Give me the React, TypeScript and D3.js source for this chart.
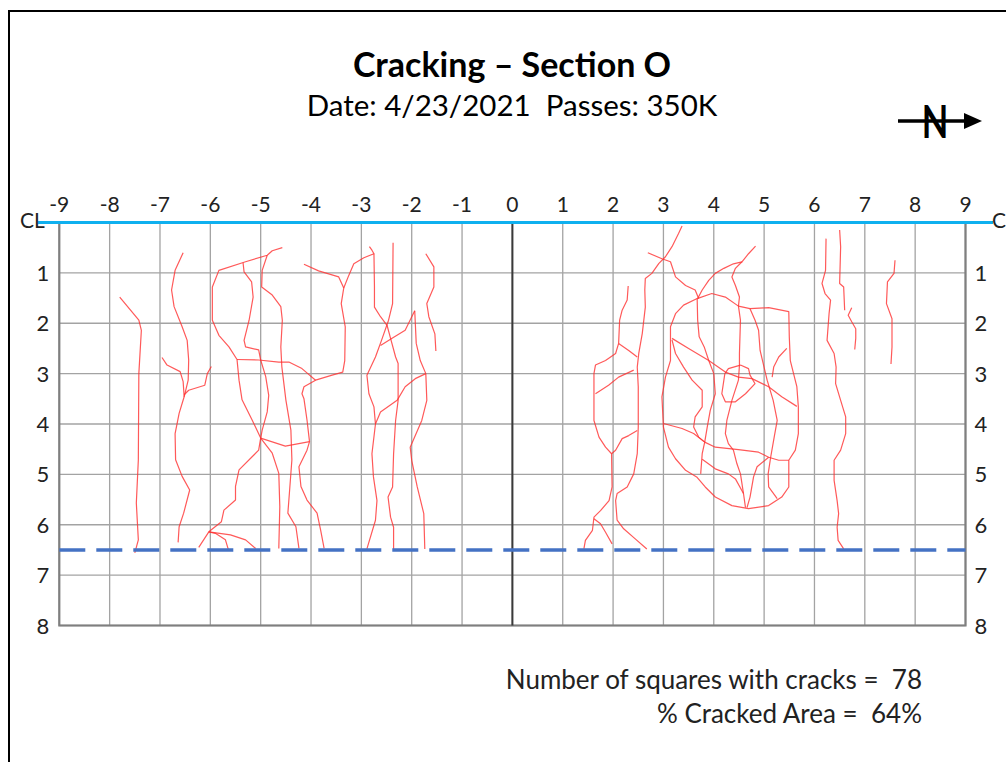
import { scaleLinear, line, range } from "d3";

type Pt = [number, number];

// grid coordinates: x = transverse offset (-9..9), y = distance from CL (0..8)
const xTicks = range(-9, 10);
const yTicks = range(1, 9);
const wheelPathY = 6.5;

const title = "Cracking \u2013 Section O";
const subtitle = "Date: 4/23/2021  Passes: 350K";
const statLines = ["Number of squares with cracks =  78", "% Cracked Area =  64%"];

// crack traces, west half
const westCracks: Pt[][] = [
  [[-7.8, 1.48], [-7.42, 1.94], [-7.37, 2.14], [-7.42, 3.0], [-7.43, 4.71], [-7.47, 5.57], [-7.43, 6.3], [-7.5, 6.56]],
  [[-6.54, 0.6], [-6.7, 0.95], [-6.77, 1.34], [-6.72, 1.67], [-6.56, 2.07], [-6.46, 2.34], [-6.43, 2.73], [-6.44, 3.13], [-6.52, 3.46], [-6.62, 3.79], [-6.7, 4.19], [-6.69, 4.71], [-6.56, 5.04], [-6.41, 5.31], [-6.53, 5.77], [-6.62, 6.04], [-6.64, 6.35]],
  [[-6.96, 2.68], [-6.86, 2.83], [-6.6, 2.96], [-6.54, 3.16], [-6.52, 3.46]],
  [[-6.52, 3.42], [-6.43, 3.33], [-6.11, 3.23], [-6.06, 3.0], [-5.98, 2.86]],
  [[-4.57, 0.5], [-4.77, 0.56], [-4.87, 0.65], [-5.3, 0.78], [-5.83, 0.95], [-5.96, 1.28], [-5.96, 1.94], [-5.83, 2.24], [-5.63, 2.47], [-5.47, 2.72], [-5.43, 3.13], [-5.37, 3.52], [-5.17, 3.92], [-5.0, 4.28]],
  [[-5.47, 2.72], [-5.04, 2.73], [-4.64, 2.77], [-4.44, 2.77], [-4.18, 2.9], [-3.91, 3.13]],
  [[-5.35, 0.8], [-5.33, 0.98], [-5.18, 1.18], [-5.15, 1.48], [-5.23, 1.94], [-5.33, 2.34], [-5.3, 2.47], [-5.04, 2.53], [-5.0, 2.73], [-4.9, 3.06], [-4.84, 3.43], [-4.87, 3.76], [-4.97, 4.12], [-5.0, 4.28], [-5.04, 4.52], [-5.14, 4.62], [-5.43, 4.91], [-5.5, 5.24], [-5.5, 5.51], [-5.73, 5.71], [-5.78, 5.94], [-6.03, 6.14], [-6.23, 6.45]],
  [[-6.03, 6.14], [-5.9, 6.17], [-5.7, 6.3], [-5.64, 6.5]],
  [[-6.03, 6.14], [-5.6, 6.2], [-5.3, 6.3], [-5.1, 6.47]],
  [[-4.87, 0.65], [-4.97, 0.95], [-4.98, 1.28], [-4.77, 1.44], [-4.6, 1.67], [-4.57, 1.94], [-4.6, 2.47], [-4.58, 2.86], [-4.5, 3.52], [-4.4, 4.12], [-4.38, 4.71], [-4.43, 5.38], [-4.46, 5.77], [-4.3, 6.04], [-4.24, 6.47]],
  [[-5.0, 4.28], [-4.77, 4.58], [-4.64, 4.98], [-4.62, 5.64], [-4.64, 6.47]],
  [[-5.0, 4.28], [-4.51, 4.44], [-4.03, 4.35]],
  [[-4.14, 0.83], [-3.85, 0.96], [-3.45, 1.08], [-3.35, 1.3], [-3.4, 1.61], [-3.32, 2.07], [-3.33, 2.74], [-3.37, 2.97], [-3.58, 3.03], [-3.91, 3.13], [-4.14, 3.26], [-4.18, 3.4], [-4.14, 3.5], [-4.08, 3.92], [-4.03, 4.35], [-4.08, 4.52], [-4.24, 4.85], [-4.2, 5.24], [-4.08, 5.51], [-3.88, 5.77], [-3.81, 6.1], [-3.74, 6.47]],
  [[-3.35, 1.3], [-3.25, 1.05], [-3.15, 0.82], [-2.95, 0.7], [-2.75, 0.62], [-2.79, 0.55], [-2.84, 0.48]],
  [[-2.75, 0.62], [-2.74, 1.28], [-2.74, 1.68], [-2.62, 1.87], [-2.49, 2.04], [-2.42, 2.3], [-2.32, 2.67], [-2.27, 2.8], [-2.27, 3.53], [-2.32, 3.93], [-2.36, 4.59], [-2.38, 5.25], [-2.47, 5.45], [-2.42, 5.85], [-2.36, 6.05], [-2.36, 6.51]],
  [[-2.37, 0.4], [-2.38, 1.61], [-2.46, 1.94], [-2.6, 2.34], [-2.72, 2.67], [-2.89, 3.03], [-2.85, 3.4], [-2.75, 3.66], [-2.72, 4.0], [-2.79, 4.59], [-2.76, 5.05], [-2.69, 5.52], [-2.72, 5.91], [-2.89, 6.48]],
  [[-2.62, 2.44], [-2.39, 2.3], [-2.13, 2.14], [-1.94, 1.75]],
  [[-1.94, 1.75], [-1.91, 2.4], [-1.83, 2.74], [-1.72, 3.0], [-1.7, 3.53], [-1.8, 3.93], [-2.03, 4.46], [-2.0, 4.72], [-1.89, 5.25], [-1.76, 5.78], [-1.74, 6.48]],
  [[-1.72, 3.0], [-1.93, 3.1], [-2.13, 3.26], [-2.29, 3.53], [-2.62, 3.76], [-2.72, 4.0]],
  [[-1.72, 0.62], [-1.56, 0.88], [-1.56, 1.28], [-1.7, 1.61], [-1.66, 1.87], [-1.54, 2.21], [-1.52, 2.55]],
];

// crack traces, east half
const eastCracks: Pt[][] = [
  [[2.3, 1.26], [2.28, 1.54], [2.18, 1.74], [2.13, 1.94], [2.11, 2.4], [2.05, 2.6], [1.85, 2.74], [1.65, 2.83], [1.62, 3.0], [1.62, 3.93], [1.72, 4.26], [1.85, 4.46], [1.97, 4.59], [1.98, 5.25], [1.92, 5.52], [1.75, 5.72], [1.62, 5.85], [1.59, 6.11], [1.45, 6.31], [1.42, 6.48]],
  [[1.62, 5.88], [1.75, 5.98], [1.85, 6.15], [1.98, 6.38]],
  [[2.11, 2.4], [2.31, 2.54], [2.48, 2.67]],
  [[3.37, 0.07], [3.3, 0.22], [3.17, 0.48], [3.04, 0.68], [2.91, 0.81], [2.77, 1.01], [2.64, 1.11], [2.63, 1.34], [2.64, 1.68], [2.58, 2.2], [2.51, 2.6], [2.48, 2.87], [2.5, 3.26], [2.5, 4.06], [2.48, 4.59], [2.41, 4.99], [2.28, 5.25], [2.08, 5.38], [2.05, 5.52], [2.08, 5.91], [2.21, 6.08], [2.44, 6.28], [2.67, 6.48]],
  [[1.65, 3.4], [1.91, 3.23], [2.11, 3.07], [2.41, 2.93]],
  [[2.48, 4.13], [2.31, 4.23], [2.18, 4.29], [2.05, 4.52], [1.97, 4.59]],
  [[2.69, 0.6], [2.97, 0.72], [3.14, 0.78], [3.24, 1.08], [3.44, 1.25], [3.63, 1.34], [3.7, 1.51]],
  [[3.67, 1.51], [3.96, 1.41], [4.23, 1.48], [4.49, 1.66], [4.72, 1.71], [5.09, 1.69], [5.49, 1.77], [5.5, 2.27], [5.52, 2.74], [5.65, 3.26], [5.68, 3.66], [5.68, 4.19], [5.62, 4.52], [5.49, 4.72], [5.49, 5.25], [5.35, 5.45], [5.09, 5.62], [4.69, 5.68], [4.36, 5.62], [4.03, 5.45], [3.83, 5.25], [3.66, 5.05], [3.44, 4.92], [3.24, 4.69], [3.1, 4.46], [3.0, 4.06], [2.97, 3.46], [3.04, 3.07], [3.14, 2.74], [3.14, 2.07], [3.24, 1.81], [3.4, 1.64], [3.67, 1.51]],
  [[3.67, 1.51], [3.68, 1.94], [3.71, 2.27], [3.81, 2.47], [3.9, 2.74], [4.0, 3.0], [4.03, 3.4], [3.93, 3.73], [3.87, 4.06], [3.82, 4.36], [3.77, 4.59], [3.74, 4.99]],
  [[3.17, 2.3], [3.5, 2.5], [3.9, 2.74], [4.23, 2.97], [4.49, 3.07], [4.76, 3.1], [5.09, 3.26], [5.35, 3.46], [5.65, 3.65]],
  [[3.17, 2.33], [3.24, 2.6], [3.4, 2.87], [3.57, 3.13], [3.77, 3.33], [3.77, 3.66], [3.63, 3.86], [3.6, 4.06], [3.7, 4.26], [3.82, 4.36]],
  [[3.0, 3.99], [3.37, 4.09], [3.6, 4.19], [3.82, 4.36], [4.03, 4.46], [4.49, 4.51], [4.89, 4.56], [5.09, 4.66], [5.29, 4.72], [5.49, 4.72]],
  [[4.49, 1.66], [4.53, 1.94], [4.51, 2.6], [4.51, 2.83], [4.49, 3.13]],
  [[4.53, 2.83], [4.29, 2.9], [4.22, 3.0], [4.16, 3.4], [4.23, 3.56], [4.43, 3.56], [4.63, 3.4], [4.82, 3.2], [4.72, 3.03], [4.69, 2.9], [4.53, 2.83]],
  [[4.49, 3.13], [4.36, 3.53], [4.26, 3.93], [4.23, 4.19], [4.29, 4.39], [4.39, 4.52], [4.46, 4.79], [4.53, 4.99], [4.59, 5.38], [4.63, 5.66]],
  [[4.72, 1.71], [4.82, 1.94], [4.89, 2.14], [4.92, 2.54], [5.06, 3.13], [5.18, 3.53], [5.26, 3.93], [5.2, 4.26], [5.13, 4.66], [5.08, 4.99], [5.09, 5.25], [5.26, 5.48]],
  [[5.45, 2.5], [5.29, 2.67], [5.19, 2.87], [5.16, 3.07]],
  [[3.77, 4.7], [4.03, 4.89], [4.29, 4.99], [4.43, 5.09], [4.59, 5.38]],
  [[5.09, 4.66], [4.86, 4.85], [4.79, 5.05], [4.72, 5.45], [4.66, 5.66]],
  [[4.83, 0.47], [4.69, 0.62], [4.56, 0.78], [4.39, 0.82], [4.2, 0.91], [4.03, 1.01], [3.9, 1.15], [3.77, 1.34], [3.68, 1.51]],
  [[4.56, 0.78], [4.43, 0.91], [4.36, 1.08], [4.43, 1.25], [4.51, 1.48], [4.49, 1.66]],
  [[6.23, 0.32], [6.22, 0.95], [6.15, 1.21], [6.21, 1.41], [6.32, 1.54], [6.29, 1.81], [6.25, 2.34], [6.39, 2.6], [6.43, 2.87], [6.42, 3.2], [6.52, 3.53], [6.62, 3.86], [6.62, 4.19], [6.52, 4.52], [6.39, 4.72], [6.39, 5.12], [6.45, 5.52], [6.48, 5.78], [6.45, 6.05], [6.47, 6.31], [6.58, 6.48]],
  [[6.5, 0.15], [6.52, 0.48], [6.5, 1.21], [6.58, 1.28], [6.6, 1.74]],
  [[6.74, 1.69], [6.67, 1.84], [6.74, 1.97], [6.82, 2.11], [6.82, 2.3], [6.8, 2.52]],
  [[7.6, 0.75], [7.58, 1.01], [7.45, 1.18], [7.43, 1.61], [7.54, 1.91], [7.54, 2.47], [7.52, 2.81]],
];

const W = 1006;
const H = 762;
const font = "Lato, 'Open Sans', sans-serif";

const App = () => {
  const x = scaleLinear().domain([-9, 9]).range([59.3, 965.5]);
  const y = scaleLinear().domain([0, 8]).range([222.5, 625.5]);
  const crackLine = line<Pt>()
    .x((d) => x(d[0]))
    .y((d) => y(d[1]));

  const cracks = [...westCracks, ...eastCracks];

  return (
    <svg
      width={W}
      height={H}
      style={{ position: "absolute", left: 0, top: 0, background: "#fff" }}
      fontFamily={font}
    >
      <rect x={9} y={11} width={1010} height={800} fill="#fff" stroke="#000" strokeWidth={2} />

      <text x={512} y={77} textAnchor="middle" fontSize={34} fontWeight={700}>
        {title}
      </text>
      <text x={512} y={116} textAnchor="middle" fontSize={29.5} style={{ whiteSpace: "pre" }}>
        {subtitle}
      </text>

      {/* north arrow */}
      <g>
        <line x1={898} x2={966} y1={121} y2={121} stroke="#000" strokeWidth={3.5} />
        <path d="M964,113 L982,121 L964,129 Z" fill="#000" />
        <text
          x={935}
          y={138}
          textAnchor="middle"
          fontSize={46}
          fontWeight={700}
          transform="translate(935,0) scale(0.75,1) translate(-935,0)"
        >
          N
        </text>
      </g>

      {/* grid */}
      {xTicks.map((v) => (
        <line key={"gx" + v} x1={x(v)} x2={x(v)} y1={y(0)} y2={y(8)} stroke="#a3a3a3" strokeWidth={1.3} />
      ))}
      {yTicks.map((v) => (
        <line key={"gy" + v} x1={x(-9)} x2={x(9)} y1={y(v)} y2={y(v)} stroke="#a3a3a3" strokeWidth={1.3} />
      ))}
      <path
        d={`M${x(-9)},${y(0)} V${y(8)} H${x(9)} V${y(0)}`}
        fill="none"
        stroke="#7f7f7f"
        strokeWidth={2.2}
      />
      <line x1={x(0)} x2={x(0)} y1={y(0)} y2={y(8)} stroke="#3a3a3a" strokeWidth={2} />

      {/* cracks */}
      <g fill="none" stroke="#ff3030" strokeWidth={1.2} strokeOpacity={0.8} strokeLinejoin="round">
        {cracks.map((c, i) => (
          <path key={i} d={crackLine(c) ?? ""} />
        ))}
      </g>

      {/* wheel path */}
      <line
        x1={x(-9)}
        x2={x(9)}
        y1={y(wheelPathY)}
        y2={y(wheelPathY)}
        stroke="#4472c4"
        strokeWidth={3.5}
        strokeDasharray="26 11"
      />

      {/* centre line */}
      <line x1={38} x2={993} y1={y(0)} y2={y(0)} stroke="#0fb0ef" strokeWidth={3} />
      <text x={20} y={228} fontSize={21} fill="#222">
        CL
      </text>
      <text x={992} y={228} fontSize={21} fill="#222">
        C
      </text>

      {xTicks.map((v) => (
        <text key={"tx" + v} x={x(v)} y={212} textAnchor="middle" fontSize={21} fill="#222">
          {v}
        </text>
      ))}
      {yTicks.map((v) => (
        <g key={"ty" + v}>
          <text x={43} y={y(v) + 8} textAnchor="middle" fontSize={22} fill="#222">
            {v}
          </text>
          <text x={981} y={y(v) + 8} textAnchor="middle" fontSize={22} fill="#222">
            {v}
          </text>
        </g>
      ))}

      {statLines.map((s, i) => (
        <text
          key={s}
          x={922}
          y={689 + i * 34}
          textAnchor="end"
          fontSize={26}
          fill="#222"
          style={{ whiteSpace: "pre" }}
        >
          {s}
        </text>
      ))}
    </svg>
  );
};

export default App;
